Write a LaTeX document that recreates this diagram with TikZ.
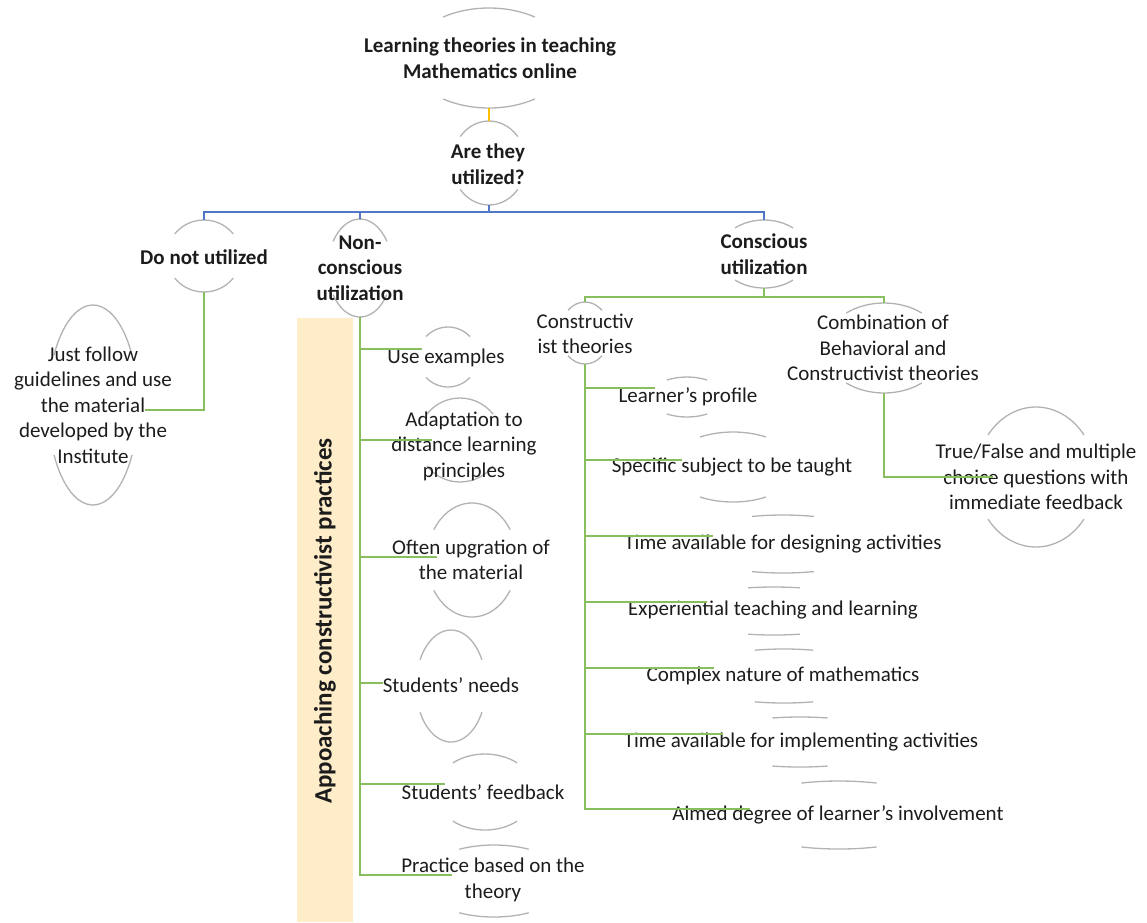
\documentclass[tikz,border=0pt]{standalone}
\usepackage{fontspec}
\setmainfont{Carlito}
\usetikzlibrary{shapes.geometric}
\definecolor{gline}{RGB}{137,190,95}
\definecolor{bline}{RGB}{80,120,200}
\definecolor{yline}{RGB}{255,192,0}
\definecolor{arcg}{RGB}{178,178,178}
\definecolor{boxfill}{RGB}{255,236,200}
\definecolor{txt}{RGB}{28,28,28}
\tikzset{
  ovshape/.style={ellipse, inner sep=0pt, outer sep=0pt, draw=none},
  arcst/.style={draw=arcg, line width=1.3pt},
  lbl/.style={align=center, text=txt, inner sep=0pt, font=\fontsize{21}{25.5}\selectfont},
  blbl/.style={align=center, text=txt, inner sep=0pt, font=\fontsize{21}{25.5}\selectfont\bfseries},
  gr/.style={draw=gline, line width=1.8pt},
  bl/.style={draw=bline, line width=1.6pt},
  yl/.style={draw=yline, line width=1.6pt},
}
\newcommand\ovnode[6]{%
  \node[ovshape, minimum width={2*#4pt}, minimum height={2*#5pt}] (#1) at (#2,#3) {};
  \draw[arcst] ([shift={(#6:#4 and #5)}]#1.center) arc[start angle=#6, end angle={180-#6}, x radius=#4, y radius=#5];
  \draw[arcst] ([shift={(-#6:#4 and #5)}]#1.center) arc[start angle=-#6, end angle={-180+#6}, x radius=#4, y radius=#5];
}
\begin{document}
\begin{tikzpicture}[x=1pt, y=-1pt]
\useasboundingbox (0,0) rectangle (1147,922);
% highlight band
\fill[boxfill] (297,318) rectangle (353,922);
\node[rotate=90, text=txt, inner sep=0pt, font=\fontsize{25}{30}\selectfont\bfseries] (apc) at (325,621) {Appoaching constructivist practices};

% top levels
\ovnode{top}{489}{58}{80}{50}{55}
\node[blbl] (ttop) at (490,58) {Learning theories in teaching\\Mathematics online};
\ovnode{q}{489}{163}{37}{42}{39}
\node[blbl] (tq) at (488,164) {Are they\\utilized?};
\ovnode{dnu}{204}{256}{37}{36}{38}
\node[blbl] (tdnu) at (204,257) {Do not utilized};
\ovnode{just}{93}{405}{45}{100}{30}
\node[lbl] (tjust) at (93,405) {Just follow\\guidelines and use\\the material\\developed by the\\Institute};
\ovnode{ncu}{360}{268}{32}{49}{33}
\node[blbl] (tncu) at (360,268) {Non-\\conscious\\utilization};
\ovnode{cons}{764}{254}{45}{34}{50}
\node[blbl] (tcons) at (764,254) {Conscious\\utilization};

% non-conscious children
\ovnode{ue}{448}{357}{30}{30}{43}
\node[lbl] (tue) at (446,358) {Use examples};
\ovnode{ad}{460}{440}{42}{42}{38}
\node[lbl] (tad) at (464,446) {Adaptation to\\distance learning\\principles};
\ovnode{of}{472}{560}{45}{57}{32}
\node[lbl] (tof) at (471,560) {Often upgration of\\the material};
\ovnode{sn}{451}{686}{35}{56}{28}
\node[lbl] (tsn) at (451,685) {Students’ needs};
\ovnode{sf}{485}{792}{50}{38}{50}
\node[lbl] (tsf) at (483,792) {Students’ feedback};
\ovnode{pb}{494}{881}{74}{36}{62}
\node[lbl] (tpb) at (493,880) {Practice based on the\\theory};

% conscious children
\ovnode{ct}{585}{333}{25}{31}{47}
\node[lbl] (tct) at (585,334) {Constructiv\\ist theories};
\ovnode{cb}{884}{348}{60}{45}{51}
\node[lbl] (tcb) at (883,348) {Combination of\\Behavioral and\\Constructivist theories};
\ovnode{tf}{1036}{477}{60}{70}{37}
\node[lbl] (ttf) at (1036,477) {True/False and multiple\\choice questions with\\immediate feedback};

\ovnode{lp}{687}{397}{38}{20}{58}
\node[lbl] (tlp) at (688,397) {Learner’s profile};
\ovnode{ss}{733}{467}{64}{35}{59}
\node[lbl] (tss) at (732,467) {Specific subject to be taught};
\ovnode{td}{783}{544}{100}{29}{72}
\node[lbl] (ttd) at (783,544) {Time available for designing activities};
\ovnode{ex}{774}{611}{100}{24}{75}
\node[lbl] (tex) at (773,610) {Experiential teaching and learning};
\ovnode{cx}{784}{676}{100}{27}{73}
\node[lbl] (tcx) at (783,676) {Complex nature of mathematics};
\ovnode{ti}{800}{742}{100}{25}{74}
\node[lbl] (tti) at (801,742) {Time available for implementing activities};
\ovnode{ai}{839}{815}{110}{34}{70}
\node[lbl] (tai) at (838,815) {Aimed degree of learner’s involvement};

% connector ends
\coordinate (jin) at (145,410);
\coordinate (uein) at (422,349);
\coordinate (adin) at (432,440);
\coordinate (ofin) at (437,557);
\coordinate (snin) at (383,683);
\coordinate (sfin) at (445,784);
\coordinate (pbin) at (452,875);
\coordinate (lpin) at (655,388);
\coordinate (ssin) at (682,460);
\coordinate (tdin) at (713,536);
\coordinate (exin) at (707,602);
\coordinate (cxin) at (714,668);
\coordinate (tiin) at (723,734);
\coordinate (aiin) at (750,809);
\coordinate (tfin) at (993,477);

% connectors
\draw[yl] (top.south) -- (q.north);
\draw[bl] (q.south) -- ++(0,7) coordinate (qb) -| (dnu.north);
\draw[bl] (qb) -| (ncu.north);
\draw[bl] (qb) -| (cons.north);
\draw[gr] (dnu.south) |- (jin);
\foreach \c in {uein,adin,ofin,snin,sfin,pbin} \draw[gr] (ncu.south) |- (\c);
\draw[gr] (cons.south) -- ++(0,9) coordinate (cb0) -| (ct.north);
\draw[gr] (cb0) -| (cb.north);
\foreach \c in {lpin,ssin,tdin,exin,cxin,tiin,aiin} \draw[gr] (ct.south) |- (\c);
\draw[gr] (cb.south) |- (tfin);
\end{tikzpicture}
\end{document}
